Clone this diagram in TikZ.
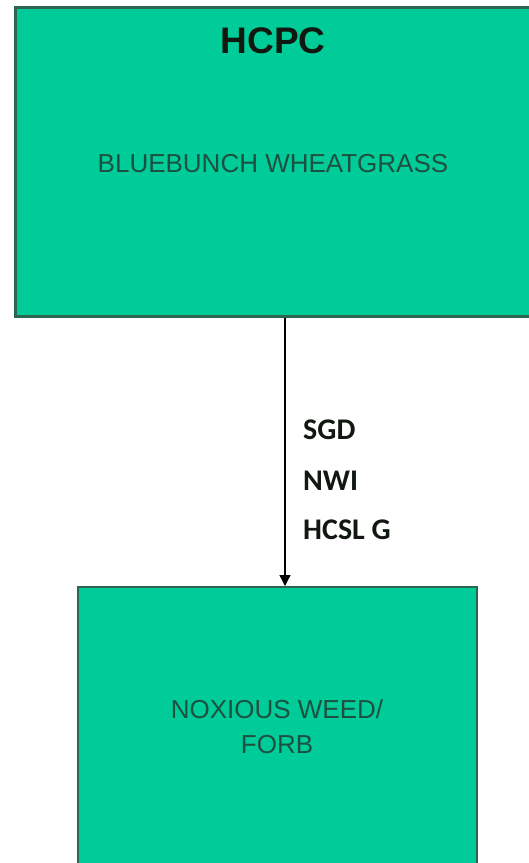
\documentclass[tikz,border=0pt]{standalone}
\usepackage{fontspec}
\newfontfamily\arialf{Liberation Sans}
\newfontfamily\calf{Carlito}
\usetikzlibrary{arrows.meta}
\definecolor{boxfill}{HTML}{00CC99}
\definecolor{boxline}{HTML}{2C6652}
\definecolor{boxtext}{HTML}{1E5040}
\definecolor{headtext}{HTML}{101810}
\tikzset{
  greenbox/.style={draw=boxline, fill=boxfill, rectangle, inner sep=0pt, anchor=north west},
  boxlabel/.style={font=\arialf\fontsize{26}{30}\selectfont, text=boxtext, inner sep=0pt, anchor=base},
  arrowlabel/.style={font=\calf\bfseries\fontsize{30}{34}\selectfont, text=headtext, inner sep=0pt, anchor=base west}
}
\begin{document}
\begin{tikzpicture}[x=1pt,y=1pt]
\useasboundingbox (0,0) rectangle (529,-863);
\clip (0,0) rectangle (529,-863);
\fill[white] (0,0) rectangle (529,-863);
\node[greenbox, line width=2.6pt, minimum width=530pt, minimum height=309pt] (top) at (14,-6) {};
\node[greenbox, line width=2pt, minimum width=399pt, minimum height=310pt] (bot) at (77,-586) {};
\node[font=\arialf\bfseries\fontsize{37}{40}\selectfont, text=headtext, inner sep=0pt, anchor=base] (hcpc) at (273,-53) {HCPC};
\node[boxlabel] (blue) at (273,-172) {BLUEBUNCH WHEATGRASS};
\node[boxlabel] (nox1) at (277,-718) {NOXIOUS WEED/};
\node[boxlabel] (nox2) at (277,-753) {FORB};
\coordinate (ax) at (285,0);
\draw[line width=1.4pt, -{Triangle[width=11pt,length=11pt]}] (top.south -| ax) -- (bot.north -| ax);
\node[arrowlabel] (sgd) at (303,-439) {SGD};
\node[arrowlabel] (nwi) at (303,-490) {NWI};
\node[arrowlabel] (hcslg) at (303,-539) {HCSL G};
\end{tikzpicture}
\end{document}
